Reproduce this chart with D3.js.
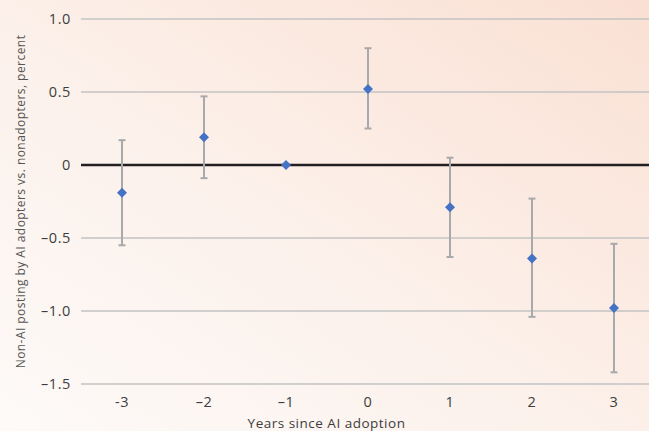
<!DOCTYPE html>
<html>
<head>
<meta charset="utf-8">
<script src="https://cdn.jsdelivr.net/npm/d3@7"></script>
<style>
  body { margin: 0; }
  svg { display: block; font-family: "Open Sans", Lato, sans-serif; }
</style>
</head>
<body>
<div id="chart"></div>
<script>
(function() {

// data
var years = [-3, -2, -1, 0, 1, 2, 3];
var yearLabels = ["-3", "\u20132", "\u20131", "0", "1", "2", "3"];
var estimate = [-0.19, 0.19, 0, 0.52, -0.29, -0.64, -0.98];
var upper = [0.17, 0.47, null, 0.80, 0.05, -0.23, -0.54];
var lower = [-0.55, -0.09, null, 0.25, -0.63, -1.04, -1.42];
var yTicks = [1.0, 0.5, 0, -0.5, -1.0, -1.5];
var yTickLabels = ["1.0", "0.5", "0", "\u20130.5", "\u20131.0", "\u20131.5"];

var W = 649, H = 431;
var margin = {top: 19, right: -6, bottom: 47, left: 81},
    width = W - margin.left - margin.right,
    height = H - margin.top - margin.bottom;

var svg = d3.select("#chart").append("svg")
    .attr("width", W)
    .attr("height", H);

// peach background gradient
var grad = svg.append("defs").append("linearGradient")
    .attr("id", "bg")
    .attr("x1", "0%").attr("y1", "100%")
    .attr("x2", "100%").attr("y2", "0%");
grad.append("stop").attr("offset", "0%").attr("stop-color", "#fdfaf8");
grad.append("stop").attr("offset", "45%").attr("stop-color", "#fcf1eb");
grad.append("stop").attr("offset", "100%").attr("stop-color", "#fae0d3");

svg.append("rect")
    .attr("width", W).attr("height", H)
    .attr("fill", "url(#bg)");

var g = svg.append("g")
    .attr("transform", "translate(" + margin.left + "," + margin.top + ")");

var x = d3.scaleBand()
    .domain(years)
    .range([0, width]);

var y = d3.scaleLinear()
    .domain([-1.5, 1.0])
    .range([height, 0]);

function cx(i) { return x(years[i]) + x.bandwidth() / 2; }

// gridlines
g.selectAll(".grid")
    .data(yTicks.filter(function(d) { return d !== 0; }))
  .enter().append("line")
    .attr("class", "grid")
    .attr("x1", 0).attr("x2", width)
    .attr("y1", function(d) { return y(d); })
    .attr("y2", function(d) { return y(d); })
    .style("stroke", "#c3c3c3")
    .style("stroke-width", 1.5);

// zero line
g.append("line")
    .attr("x1", 0).attr("x2", width)
    .attr("y1", y(0)).attr("y2", y(0))
    .style("stroke", "#231f20")
    .style("stroke-width", 2.5);

// y tick labels
g.selectAll(".ylab")
    .data(yTicks)
  .enter().append("text")
    .attr("class", "ylab")
    .attr("x", -10)
    .attr("y", function(d) { return y(d); })
    .attr("dy", "0.35em")
    .attr("text-anchor", "end")
    .style("font-size", "14.5px")
    .style("letter-spacing", "0.6px")
    .style("fill", "#3d3d3d")
    .text(function(d, i) { return yTickLabels[i]; });

// x tick labels
g.selectAll(".xlab")
    .data(years)
  .enter().append("text")
    .attr("class", "xlab")
    .attr("x", function(d, i) { return cx(i); })
    .attr("y", height + 23)
    .attr("text-anchor", "middle")
    .style("font-size", "14.5px")
    .style("letter-spacing", "0.6px")
    .style("fill", "#3d3d3d")
    .text(function(d, i) { return yearLabels[i]; });

// axis titles
svg.append("text")
    .attr("x", W / 2 + 2)
    .attr("y", H - 3)
    .attr("text-anchor", "middle")
    .style("font-size", "13.5px")
    .style("letter-spacing", "0.5px")
    .style("fill", "#3d3d3d")
    .text("Years since AI adoption");

svg.append("text")
    .attr("transform", "translate(25," + (margin.top + y(-0.25)) + ") rotate(-90)")
    .attr("text-anchor", "middle")
    .style("font-size", "12px")
    .style("letter-spacing", "0.45px")
    .style("fill", "#555")
    .text("Non-AI posting by AI adopters vs. nonadopters, percent");

// error bars
var bars = years.map(function(d, i) { return i; }).filter(function(i) { return upper[i] !== null; });
var eb = g.selectAll(".err")
    .data(bars)
  .enter().append("g")
    .attr("class", "err")
    .style("stroke", "#a8a9ab")
    .style("stroke-width", 2);
eb.append("line")
    .attr("x1", cx).attr("x2", cx)
    .attr("y1", function(i) { return y(upper[i]); })
    .attr("y2", function(i) { return y(lower[i]); });
eb.append("line")
    .attr("x1", function(i) { return cx(i) - 3.5; })
    .attr("x2", function(i) { return cx(i) + 3.5; })
    .attr("y1", function(i) { return y(upper[i]); })
    .attr("y2", function(i) { return y(upper[i]); });
eb.append("line")
    .attr("x1", function(i) { return cx(i) - 3.5; })
    .attr("x2", function(i) { return cx(i) + 3.5; })
    .attr("y1", function(i) { return y(lower[i]); })
    .attr("y2", function(i) { return y(lower[i]); });

// diamonds
g.selectAll(".pt")
    .data(estimate)
  .enter().append("path")
    .attr("class", "pt")
    .attr("d", d3.symbol().type(d3.symbolDiamond2).size(64))
    .attr("transform", function(d, i) { return "translate(" + cx(i) + "," + y(d) + ")"; })
    .style("fill", "#4472c4");

})()
</script>
</body>
</html>
